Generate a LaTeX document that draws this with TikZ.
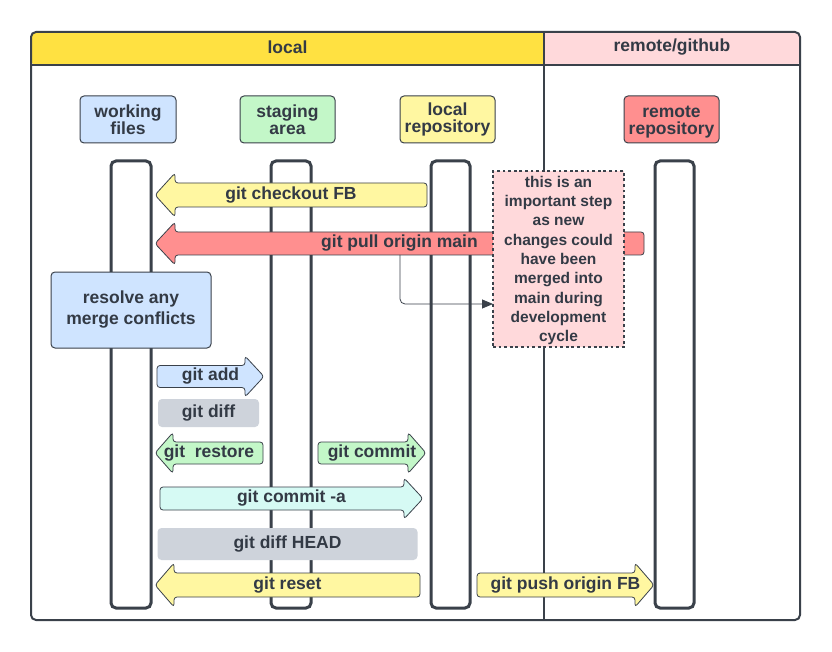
\documentclass[tikz,border=0pt]{standalone}
\usepackage{fontspec}
\setmainfont{Liberation Sans}
\usetikzlibrary{arrows.meta}

\definecolor{ink}{HTML}{3A414A}
\definecolor{txt}{HTML}{333A45}
\definecolor{hdryellow}{HTML}{FFE141}
\definecolor{hdrpink}{HTML}{FFD9DB}
\definecolor{cblue}{HTML}{CFE4FF}
\definecolor{cgreen}{HTML}{C3F7C8}
\definecolor{cyellow}{HTML}{FFF7A1}
\definecolor{cred}{HTML}{FF8F8F}
\definecolor{cgray}{HTML}{CED3DB}
\definecolor{ccyan}{HTML}{D6FAF4}

\tikzset{
  lbl/.style={font=\fontsize{17.5}{17}\selectfont\bfseries, text=txt, inner sep=0pt, align=center},
  hdr/.style={font=\fontsize{17.5}{17}\selectfont\bfseries, text=txt, inner sep=0pt},
  headbox/.style={draw=ink, line width=1pt, rounded corners=4pt},
  lifeline/.style={draw=ink, fill=white, line width=3pt, rounded corners=5pt},
  shaft/.style={draw=ink, line width=0.8pt, rounded corners=3pt},
  flatbox/.style={fill=cgray, rounded corners=4pt},
}

% right-pointing block arrow: name, tail x, tip x, centre y, body half, head half, head length, fill, text
\newcommand\blockR[9]{%
  \path[shaft, fill=#8] (#2,#4-#5) -- (#3-#7,#4-#5) -- (#3-#7,#4-#6) -- (#3,#4)
    -- (#3-#7,#4+#6) -- (#3-#7,#4+#5) -- (#2,#4+#5) -- cycle;
  \node[lbl] (#1) at ({(#2+#3)/2},#4) {#9};}
% left-pointing block arrow: name, tip x, tail x, centre y, body half, head half, head length, fill, text
\newcommand\blockL[9]{%
  \path[shaft, fill=#8] (#3,#4-#5) -- (#2+#7,#4-#5) -- (#2+#7,#4-#6) -- (#2,#4)
    -- (#2+#7,#4+#6) -- (#2+#7,#4+#5) -- (#3,#4+#5) -- cycle;
  \node[lbl] (#1) at ({(#2+#3)/2},#4) {#9};}

\begin{document}
\begin{tikzpicture}[x=1pt, y=-1pt]
\useasboundingbox (0,0) rectangle (832,652);

% frame and header band
\fill[white, rounded corners=5pt] (31,32) rectangle (800,620);
\fill[hdryellow, rounded corners=5pt] (31,32) -- (544,32) -- (544,65) -- (31,65) -- cycle;
\fill[hdrpink, rounded corners=5pt] (544,32) -- (800,32) -- (800,65) -- (544,65) -- cycle;
\fill[hdryellow] (40,32) rectangle (544,65);
\fill[hdrpink] (544,32) rectangle (790,65);
\draw[ink, line width=1.8pt] (31,65) -- (800,65);
\draw[ink, line width=1.5pt] (544,32) -- (544,620);
\draw[ink, line width=2pt, rounded corners=5pt] (31,32) rectangle (800,620);
\node[hdr] (hlocal) at (287.5,47.5) {local};
\node[hdr] (hremote) at (672,47.5) {remote/github};

% column heads
\node[headbox, fill=cblue, minimum width=96pt, minimum height=47pt, lbl] (wf) at (128,119.5) {working\\files};
\node[headbox, fill=cgreen, minimum width=95pt, minimum height=47pt, lbl] (sa) at (287.5,119.5) {staging\\area};
\node[headbox, fill=cyellow, minimum width=95pt, minimum height=47pt, lbl] (lr) at (447.5,119.5) {local\\repository};
\node[headbox, fill=cred, minimum width=95pt, minimum height=47pt, lbl] (rr) at (671.5,119.5)
  {\raisebox{-6.5pt}[0pt][0pt]{\parbox{90pt}{\centering remote\\repository}}};

% lifelines
\path[lifeline] (111,161) rectangle (151,608);
\path[lifeline] (271,161) rectangle (311,608);
\path[lifeline] (431,161) rectangle (470,608);
\path[lifeline] (655,161) rectangle (694,608);

% commands
\blockL{checkout}{155}{427}{195}{12}{22}{20}{cyellow}{git checkout FB}
\blockL{pull}{155}{644}{243.5}{11.5}{21.5}{20}{cred}{git pull origin main}

\node[headbox, fill=cblue, minimum width=160pt, minimum height=76pt, lbl,
      font=\fontsize{17.5}{21}\selectfont\bfseries] (resolve) at (131,310) {resolve any\\merge conflicts};

\blockR{add}{157}{264}{376.5}{11}{20.5}{19}{cblue}{git add}
\node[flatbox, minimum width=101pt, minimum height=28pt, lbl] (diff) at (208.5,413) {git diff};

\blockL{restore}{155}{263}{453}{11}{20.5}{18}{cgreen}{git\ \ restore}
\blockR{commit}{318}{426}{453}{11}{20.5}{18}{cgreen}{git commit}
\blockR{commita}{160}{423}{498.5}{11.5}{20.5}{19}{ccyan}{git commit -a}

\node[flatbox, minimum width=260pt, minimum height=32pt, lbl] (diffhead) at (287.5,544) {git diff HEAD};
\blockL{reset}{155}{420}{585}{12}{22}{19}{cyellow}{git reset}
\blockR{push}{477}{654}{585}{12}{22}{19}{cyellow}{git push origin FB}

% side note on git pull
\node[fill=hdrpink, draw=ink, line width=2.8pt, dash pattern=on 2.8pt off 2.8pt, line cap=butt,
      minimum width=131pt, minimum height=176pt, inner sep=0pt, align=center, text=txt,
      font=\fontsize{15.5}{19.3}\selectfont\bfseries] (note) at (558.5,259)
  {\raisebox{-5pt}[0pt][0pt]{\parbox{120pt}{\centering this is an\\important step\\as new\\changes could\\have been\\merged into\\main during\\development\\cycle}}};

\coordinate (pullfoot) at (400,255);
\coordinate (notein) at (493,304);
\draw[ink, line width=0.8pt, rounded corners=5pt, -{Triangle[length=11pt, width=9pt]}]
  (pullfoot) |- (notein);
\end{tikzpicture}
\end{document}
